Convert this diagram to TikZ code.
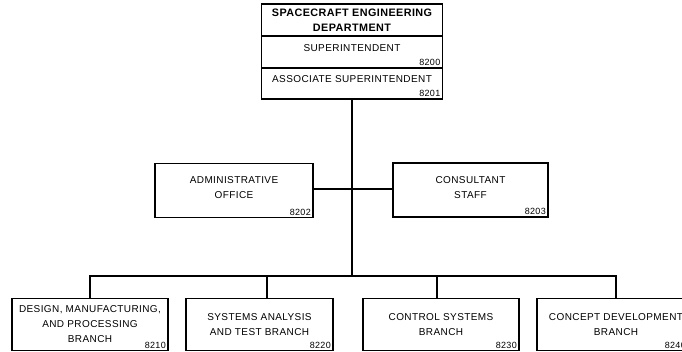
\documentclass[tikz,border=0pt]{standalone}
\usepackage{fontspec}
\setmainfont{Liberation Sans}[LetterSpace=4]
\newcommand{\twoline}[2]{\raisebox{2pt}[\height][\depth]{\begin{tabular}{@{}c@{}}#1\\#2\end{tabular}}}
\tikzset{
  box/.style={draw, line width=1.1pt, inner sep=0pt, align=center,
    font=\fontsize{10}{15}\selectfont},
  numlab/.style={label={[anchor=south east, inner sep=0pt, xshift=-2.5pt, yshift=2.5pt,
    font=\fontsize{9}{10}\selectfont]south east:#1}},
  conn/.style={line width=1.9pt}
}
\begin{document}
\begin{tikzpicture}[x=1pt,y=-1pt]
\useasboundingbox (0,0) rectangle (682,352);
\clip (0,0) rectangle (682,352);
% top stacked box
\node[box, minimum width=181pt, minimum height=32pt, font=\bfseries\fontsize{10.8}{15}\selectfont]
  (dept) at (352,20) {SPACECRAFT ENGINEERING\\DEPARTMENT};
\node[box, minimum width=181pt, minimum height=32pt, numlab=8200]
  (sup) at (352,52) {\raisebox{4pt}[\height][\depth]{SUPERINTENDENT}};
\node[box, minimum width=181pt, minimum height=31pt, numlab=8201]
  (assoc) at (352,83.5) {\raisebox{4pt}[\height][\depth]{ASSOCIATE SUPERINTENDENT}};
% staff boxes
\node[box, minimum width=158pt, minimum height=54pt, numlab=8202]
  (admin) at (234,190.5) {\twoline{ADMINISTRATIVE}{OFFICE}};
\node[box, minimum width=155pt, minimum height=54pt, numlab=8203]
  (consult) at (470.5,190) {\twoline{CONSULTANT}{STAFF}};
% branch boxes
\node[box, minimum width=156pt, minimum height=52pt, numlab=8210]
  (b1) at (90,324.5) {DESIGN, MANUFACTURING,\\AND PROCESSING\\BRANCH};
\node[box, minimum width=147pt, minimum height=52pt, numlab=8220]
  (b2) at (259.5,324.5) {SYSTEMS ANALYSIS\\AND TEST BRANCH};
\node[box, minimum width=156pt, minimum height=52pt, numlab=8230]
  (b3) at (441,324.5) {CONTROL SYSTEMS\\BRANCH};
\node[box, minimum width=151pt, minimum height=52pt, numlab=8240]
  (b4) at (612.5,324.5) {\hspace*{7pt}CONCEPT DEVELOPMENT\\\hspace*{7pt}BRANCH};
% connectors
\coordinate (bus) at (352,276);
\draw[conn] (assoc.south) -- (bus);
\draw[conn] (admin.east |- 0,189) -- (consult.west |- 0,189);
\draw[conn] (b1.north) -- (b1.north |- bus) -- ([xshift=3.5pt]b4.north |- bus) -- ([xshift=3.5pt]b4.north);
\draw[conn] ([xshift=7.5pt]b2.north) -- ([xshift=7.5pt]b2.north |- bus);
\draw[conn] ([xshift=-4pt]b3.north) -- ([xshift=-4pt]b3.north |- bus);
\end{tikzpicture}
\end{document}
